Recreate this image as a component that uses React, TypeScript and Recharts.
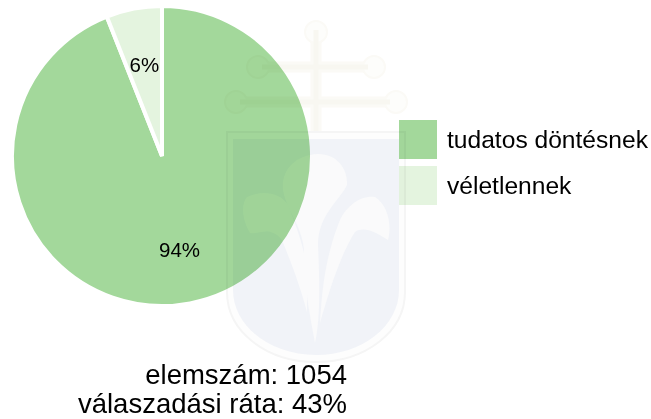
import React from "react";
import { PieChart, Pie, Cell } from "recharts";

const categories = ["tudatos döntésnek", "véletlennek"];
const values = [94, 6];
const colors = ["#a3d89b", "#e4f4df"];
const notes = ["elemszám: 1054", "válaszadási ráta: 43%"];
const data = categories.map((name, i) => ({ name, value: values[i] }));
const FONT = "'Liberation Sans', Arial, sans-serif";

function sliceLabel(p: any) {
  const R = Math.PI / 180;
  const r = p.outerRadius * 0.625;
  return (
    <text x={p.cx + r * Math.cos(-p.midAngle * R)} y={p.cy + r * Math.sin(-p.midAngle * R) + 1} textAnchor="middle" dominantBaseline="central" fontSize={20.5} fontFamily={FONT} fill="#000">
      {p.value}%
    </text>
  );
}

const crossLines = "M316 30V132 M262 67H368 M240 102H390";
const crossEnds = [[316, 32], [258, 67], [374, 67], [236, 102], [396, 102]];

function Watermark() {
  return (
    <svg width={651} height={419} style={{ position: "absolute", left: 0, top: 0, pointerEvents: "none", mixBlendMode: "multiply" }}>
      <path d={crossLines} fill="none" stroke="#fbfaf6" strokeWidth={11} />
      {crossEnds.map(([x, y]) => <circle key={x + "-" + y} cx={x} cy={y} r={11} fill="#fdfdfb" stroke="#fbfaf6" strokeWidth={2} />)}
      <path d={crossLines} fill="none" stroke="#f8f7f1" strokeWidth={5} />
      <path d="M227 132H405V292C405 332 365 362 316 362C267 362 227 332 227 292Z" fill="#fdfdfd" stroke="#f5f5f5" strokeWidth={2} />
      <path d="M233 139H399V290C399 326 362 355 316 355C270 355 233 326 233 290Z" fill="#f1f3f8" />
      <g fill="#fafafb">
        <path d="M315 343C311 320 304 290 304 250C302 225 286 210 283 190C281 170 295 155 318 154C338 154 348 170 347 185C340 200 318 215 318 245C320 290 320 320 315 343Z" />
        <path d="M307 312C300 285 290 260 282 240C270 225 258 235 250 233C243 222 240 205 247 197C262 190 280 192 288 205C296 225 305 250 307 270Z" />
        <path d="M320 323C322 290 325 260 338 225C345 205 362 195 375 197C388 205 392 225 388 240C380 235 365 225 355 232C340 255 328 295 320 323Z" />
      </g>
    </svg>
  );
}

export default function App() {
  return (
    <div style={{ position: "absolute", left: 0, top: 0, width: 651, height: 419, fontFamily: FONT }}>
      <PieChart width={651} height={419} margin={{ top: 0, right: 0, bottom: 0, left: 0 }}>
        <Pie data={data} dataKey="value" nameKey="name" cx={162} cy={156} outerRadius={150} startAngle={90} endAngle={-270} stroke="#fff" strokeWidth={4} label={sliceLabel} labelLine={false} isAnimationActive={false}>
          {data.map((d, i) => <Cell key={d.name} fill={colors[i]} />)}
        </Pie>
      </PieChart>
      <Watermark />
      {categories.map((c, i) => (
        <div key={c} style={{ position: "absolute", left: 399, top: 120 + i * 46, display: "flex", alignItems: "center", height: 39 }}>
          <span style={{ width: 38, height: 39, background: colors[i], display: "inline-block", mixBlendMode: "multiply" }} />
          <span style={{ marginLeft: 10, fontSize: 24.6, color: "#000", whiteSpace: "nowrap" }}>{c}</span>
        </div>
      ))}
      {notes.map((n, i) => (
        <div key={n} style={{ position: "absolute", right: 304, top: 360 + i * 29, fontSize: 27.5, lineHeight: "30px", color: "#000", whiteSpace: "nowrap" }}>{n}</div>
      ))}
    </div>
  );
}
